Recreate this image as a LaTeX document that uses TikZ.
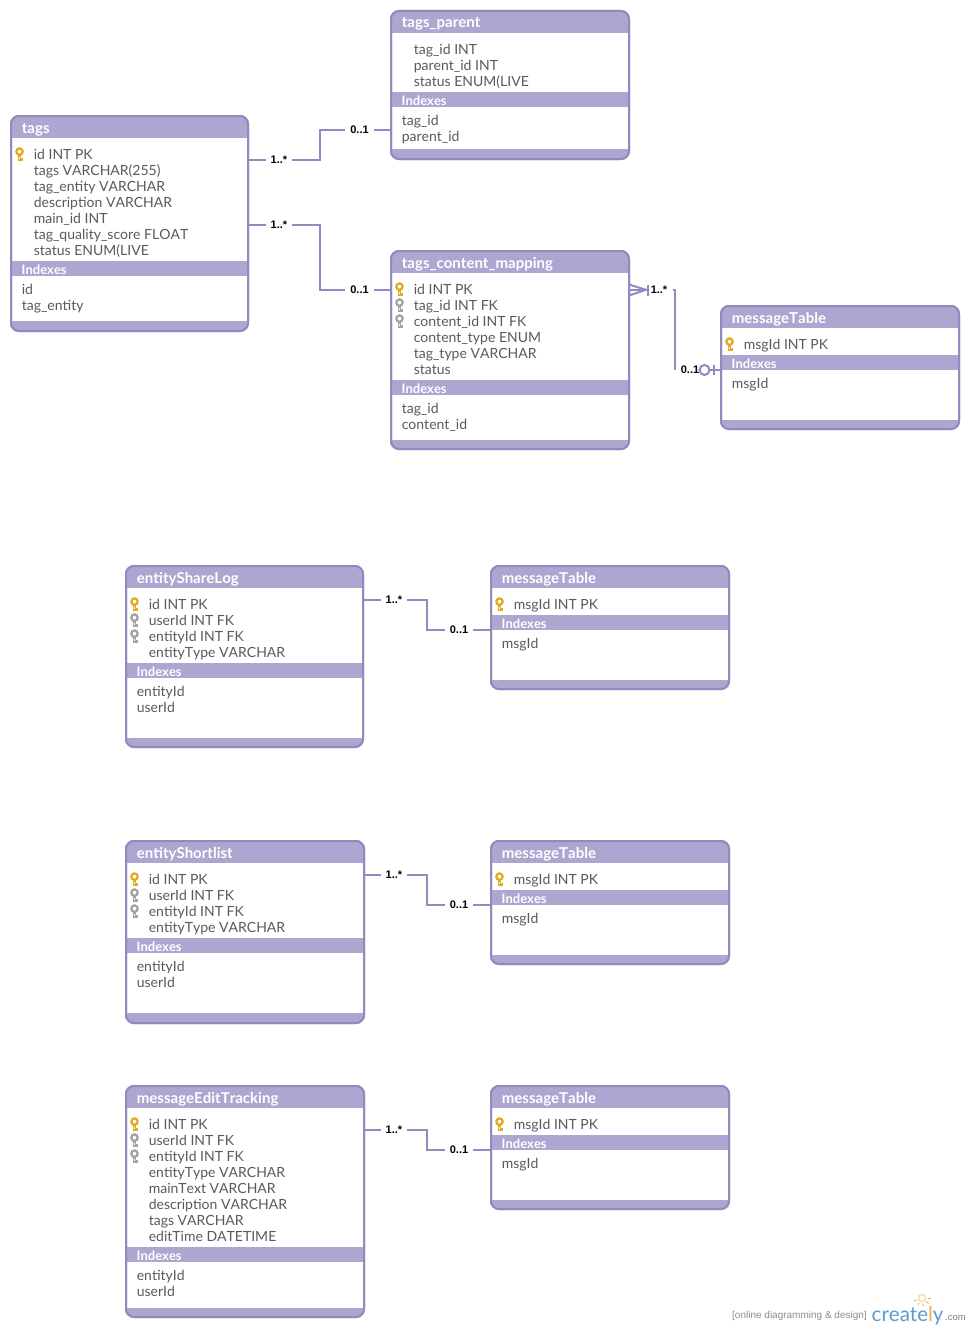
\documentclass[tikz,border=0pt]{standalone}
\usepackage{fontspec}
\setmainfont{Lato}[Kerning=Off]
\newfontfamily\arialf{Liberation Sans}
\definecolor{erdhead}{HTML}{ADA6D1}
\definecolor{erdline}{HTML}{918ABF}
\definecolor{erdtext}{HTML}{5A5A5C}
\definecolor{keygold}{HTML}{E5A91E}
\definecolor{keygray}{HTML}{A3A3A3}
\definecolor{logoblue}{HTML}{5B9BD3}
\definecolor{logoorange}{HTML}{F2B04A}
\tikzset{
  x=1pt,y=-1pt,
  tablebox/.style={draw=erdline,line width=2pt,rounded corners=8pt,inner sep=0pt,outer sep=0pt},
  titletext/.style={anchor=base west,inner sep=0pt,text=white,font=\fontsize{15}{16}\selectfont\bfseries},
  barinfo/.style={anchor=base west,inner sep=0pt,text=white,font=\fontsize{13}{14}\selectfont\bfseries},
  rowtext/.style={anchor=base west,inner sep=0pt,text=erdtext,font=\fontsize{14}{16}\selectfont},
  link/.style={draw=erdline,line width=2pt},
  card/.style={inner xsep=5pt,inner ysep=2pt,outer sep=0pt,text=black,font=\arialf\fontsize{11}{12}\selectfont\bfseries},
  pics/keyicon/.style={code={
    \draw[#1,line width=2.2pt] (0,-2.4) circle[radius=3.2];
    \fill[#1] (-1.9,0) rectangle (1.9,6.5);
    \fill[#1] (1.9,3.8) rectangle (3.1,6.5);
    \fill[white] (-0.4,3) rectangle (0.4,5.2);
  }},
}
% name, x1, y1, x2, y2, title, bar top, footer top, rows
\newcommand\erd[9]{%
  \node[tablebox,fill=white,minimum width={(#4-#2)*1pt},minimum height={(#5-#3)*1pt}] (#1) at ({(#2+#4)/2},{(#3+#5)/2}) {};
  \begin{scope}
    \clip[rounded corners=8pt] (#1.south west) rectangle (#1.north east);
    \fill[erdhead] (#2,#3) rectangle (#4,#3+22);
    \fill[erdhead] (#2,#7) rectangle (#4,#7+15);
    \fill[erdhead] (#2,#8) rectangle (#4,#5);
  \end{scope}
  \draw[erdline,line width=2pt,rounded corners=8pt] (#1.south west) rectangle (#1.north east);
  \node[titletext] (#1-title) at (#2+10.7,#3+17) {#6};
  \node[barinfo] (#1-bar) at (#2+10.5,#7+13) {Indexes};
  \foreach \rowk/\rowt [count=\i] in {#9}{%
    \pgfmathsetmacro\ry{#3+38+16*(\i-1)}
    \node[rowtext] (#1-r\i) at (#2+22.6,\ry+5.2) {\rowt};
    \if\rowk P\pic at (#2+8.5,\ry) {keyicon=keygold};\fi
    \if\rowk F\pic at (#2+8.5,\ry) {keyicon=keygray};\fi
  }%
}
% name, x1, bar top, index rows
\newcommand\erdidx[4]{%
  \foreach \rowt [count=\i] in {#4}{%
    \pgfmathsetmacro\ry{#3+28+16*(\i-1)}
    \node[rowtext] (#1-x\i) at (#2+10.6,\ry+5.2) {\rowt};
  }%
}
\begin{document}
\begin{tikzpicture}
\useasboundingbox[fill=white] (0,0) rectangle (970,1330);

\erd{tags}{11}{116}{248}{331}{tags}{261}{321}{P/id INT PK,N/tags VARCHAR(255),N/tag\_entity VARCHAR,N/description VARCHAR,N/main\_id INT,N/tag\_quality\_score FLOAT,N/status ENUM(LIVE}
\erdidx{tags}{11}{261}{id,tag\_entity}

\erd{tp}{391}{11}{629}{159}{tags\_parent}{92}{149}{N/tag\_id INT,N/parent\_id INT,N/status ENUM(LIVE}
\erdidx{tp}{391}{92}{tag\_id,parent\_id}

\erd{tcm}{391}{251}{629}{449}{tags\_content\_mapping}{380}{440}{P/id INT PK,F/tag\_id INT FK,F/content\_id INT FK,N/content\_type ENUM,N/tag\_type VARCHAR,N/status}
\erdidx{tcm}{391}{380}{tag\_id,content\_id}

\erd{mta}{721}{306}{959}{429}{messageTable}{355}{420}{P/msgId INT PK}
\erdidx{mta}{721}{355}{msgId}

\erd{esl}{126}{566}{363}{747}{entityShareLog}{663}{738}{P/id INT PK,F/userId INT FK,F/entityId INT FK,N/entityType VARCHAR}
\erdidx{esl}{126}{663}{entityId,userId}

\erd{mtb}{491}{566}{729}{689}{messageTable}{615}{680}{P/msgId INT PK}
\erdidx{mtb}{491}{615}{msgId}

\erd{esh}{126}{841}{364}{1023}{entityShortlist}{938}{1013}{P/id INT PK,F/userId INT FK,F/entityId INT FK,N/entityType VARCHAR}
\erdidx{esh}{126}{938}{entityId,userId}

\erd{mtc}{491}{841}{729}{964}{messageTable}{890}{955}{P/msgId INT PK}
\erdidx{mtc}{491}{890}{msgId}

\erd{met}{126}{1086}{364}{1317}{messageEditTracking}{1247}{1308}{P/id INT PK,F/userId INT FK,F/entityId INT FK,N/entityType VARCHAR,N/mainText VARCHAR,N/description VARCHAR,N/tags VARCHAR,N/editTime DATETIME}
\erdidx{met}{126}{1247}{entityId,userId}

\erd{mtd}{491}{1086}{729}{1209}{messageTable}{1135}{1200}{P/msgId INT PK}
\erdidx{mtd}{491}{1135}{msgId}

% connectors
\node[card] (c1a) at (279,159.8) {1..*};
\node[card] (c1b) at (359.5,129.8) {0..1};
\draw[link] (tags.east |- 0,159.8) -- (c1a) -- (320,159.8) -- (320,129.8) -- (c1b) -- (tp.west |- 0,129.8);

\node[card] (c2a) at (279,224.8) {1..*};
\node[card] (c2b) at (359.5,289.8) {0..1};
\draw[link] (tags.east |- 0,224.8) -- (c2a) -- (320,224.8) -- (320,289.8) -- (c2b) -- (tcm.west |- 0,289.8);

\node[card] (c4a) at (394,599.6) {1..*};
\node[card] (c4b) at (459,629.8) {0..1};
\draw[link] (esl.east |- 0,599.6) -- (c4a) -- (427,599.6) -- (427,629.8) -- (c4b) -- (mtb.west |- 0,629.8);

\node[card] (c5a) at (394,875) {1..*};
\node[card] (c5b) at (459,905) {0..1};
\draw[link] (esh.east |- 0,875) -- (c5a) -- (427,875) -- (427,905) -- (c5b) -- (mtc.west |- 0,905);

\node[card] (c6a) at (394,1130) {1..*};
\node[card] (c6b) at (459,1150) {0..1};
\draw[link] (met.east |- 0,1130) -- (c6a) -- (427,1130) -- (427,1150) -- (c6b) -- (mtd.west |- 0,1150);

% crow's foot and zero-or-one connector
\coordinate (cfp) at (646,289.8);
\draw[link] (tcm.east |- 0,284.5) -- (cfp) -- (tcm.east |- 0,295.5);
\draw[link] (tcm.east |- 0,289.8) -- (cfp);
\draw[link] (648,284.5) -- (648,295.5);
\node[card,inner xsep=0pt] (c3a) at (659,289.8) {1..*};
\coordinate (c3t) at (673,289.5);
\coordinate (c3m) at (675,370);
\draw[link] (c3t) -- (675,289.5) -- (c3m);
\node[card,inner xsep=0pt] (c3b) at (690,369.8) {0..1};
\node[draw=erdline,line width=2pt,circle,minimum size=10pt,inner sep=0pt,outer sep=0pt,fill=white] (c3o) at (704.5,370) {};
\draw[link] (c3o) -- (mta.west |- 0,370);
\draw[link] (714,365) -- (714,375);

% watermark
\node[anchor=base west,inner sep=0pt,text=black!45,font=\arialf\fontsize{10}{11}\selectfont] (wm) at (732,1318) {[online diagramming \& design]};
\node[anchor=base west,inner sep=0pt,text=logoblue,font=\fontsize{20.5}{22}\selectfont] (lg) at (871.5,1321) {create\textcolor{logoorange}{l}y};
\node[anchor=base west,inner sep=0pt,text=black!50,font=\arialf\fontsize{9.5}{10}\selectfont] (lc) at (945,1320) {.com};
\draw[logoorange!70,line width=.8pt] (922,1298) circle[radius=3.5];
\foreach \a in {0,40,...,180}{\draw[logoorange,line width=.8pt] (922,1298) ++({\a+180}:-5.5) -- ++({\a+180}:-3);}
\end{tikzpicture}
\end{document}
